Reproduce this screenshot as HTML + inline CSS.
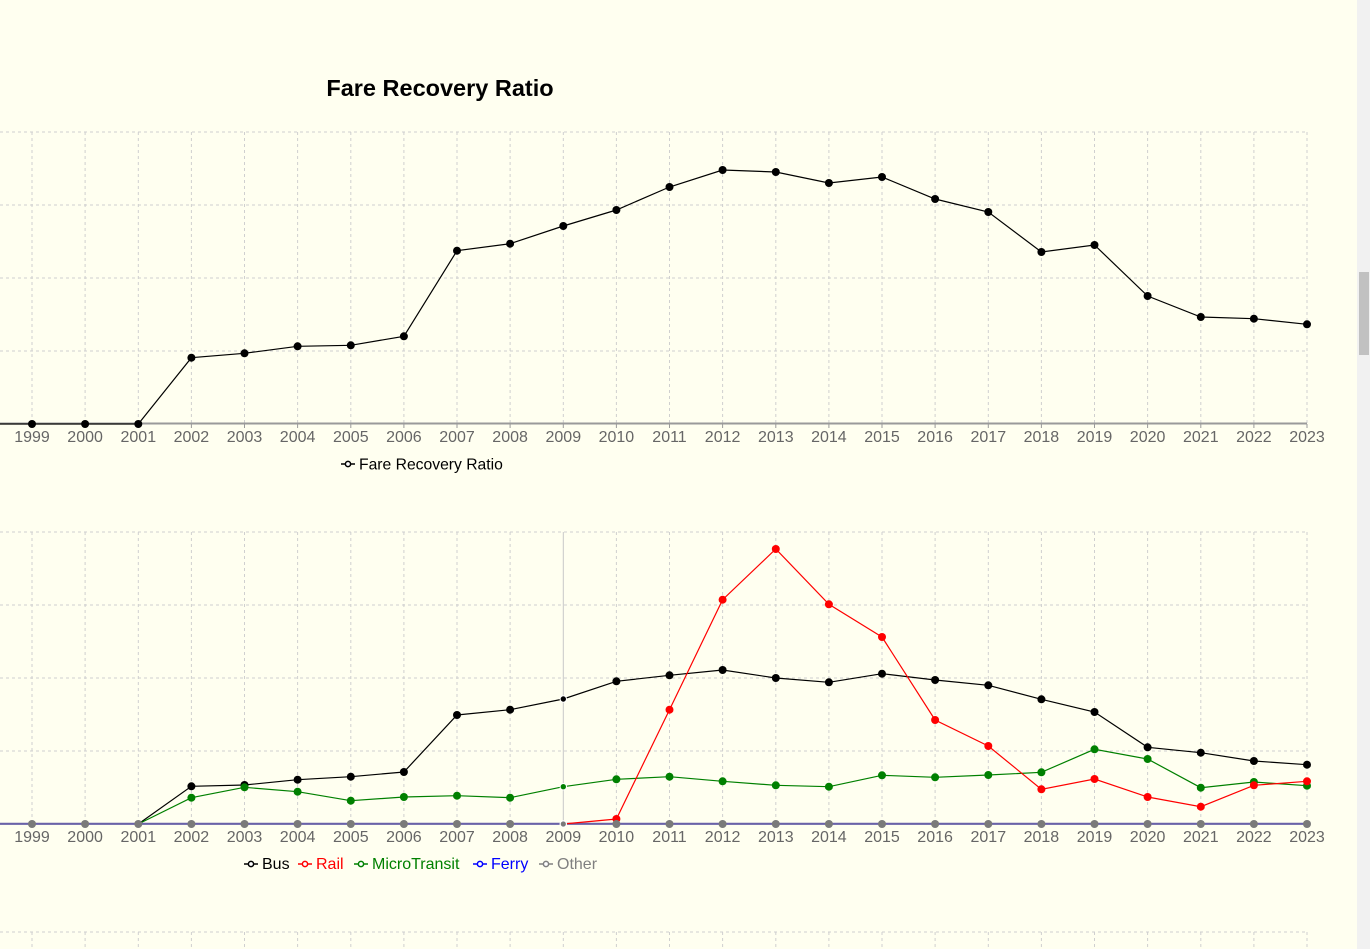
<!DOCTYPE html>
<html><head><meta charset="utf-8"><style>
html,body{margin:0;padding:0;background:#fffff0;overflow:hidden}
svg{display:block}
text{font-family:"Liberation Sans",sans-serif}
</style></head><body>
<svg width="1370" height="949" viewBox="0 0 1370 949" xmlns="http://www.w3.org/2000/svg">
<rect width="1370" height="949" fill="#fffff0"/>
<!-- scrollbar -->
<rect x="1357" y="0" width="13" height="949" fill="#f1f1f1"/>
<rect x="1359" y="272" width="10" height="83" fill="#c1c1c1"/>

<text x="440" y="96" text-anchor="middle" font-size="23.5" font-weight="bold" fill="#000">Fare Recovery Ratio</text>

<!-- ===== TOP CHART ===== -->
<g stroke="#cfcfcf" stroke-width="1" stroke-dasharray="3,3" fill="none">
<line x1="0" y1="132" x2="1307" y2="132"/>
<line x1="0" y1="205" x2="1307" y2="205"/>
<line x1="0" y1="278" x2="1307" y2="278"/>
<line x1="0" y1="351" x2="1307" y2="351"/>
<path d="M32 132V424M85.1 132V424M138.3 132V424M191.4 132V424M244.5 132V424M297.6 132V424M350.8 132V424M403.9 132V424M457 132V424M510.1 132V424M563.3 132V424M616.4 132V424M669.5 132V424M722.6 132V424M775.8 132V424M828.9 132V424M882 132V424M935.1 132V424M988.3 132V424M1041.4 132V424M1094.5 132V424M1147.6 132V424M1200.8 132V424M1253.9 132V424M1307 132V424"/>
</g>
<line x1="0" y1="423.5" x2="1307" y2="423.5" stroke="#9a9a9a" stroke-width="2"/>
<path d="M32 424V428M85.1 424V428M138.3 424V428M191.4 424V428M244.5 424V428M297.6 424V428M350.8 424V428M403.9 424V428M457 424V428M510.1 424V428M563.3 424V428M616.4 424V428M669.5 424V428M722.6 424V428M775.8 424V428M828.9 424V428M882 424V428M935.1 424V428M988.3 424V428M1041.4 424V428M1094.5 424V428M1147.6 424V428M1200.8 424V428M1253.9 424V428M1307 424V428" stroke="#9a9a9a" stroke-width="1"/>
<g font-size="16" fill="#666" text-anchor="middle">
<text x="32" y="442">1999</text><text x="85.1" y="442">2000</text><text x="138.3" y="442">2001</text><text x="191.4" y="442">2002</text><text x="244.5" y="442">2003</text><text x="297.6" y="442">2004</text><text x="350.8" y="442">2005</text><text x="403.9" y="442">2006</text><text x="457" y="442">2007</text><text x="510.1" y="442">2008</text><text x="563.3" y="442">2009</text><text x="616.4" y="442">2010</text><text x="669.5" y="442">2011</text><text x="722.6" y="442">2012</text><text x="775.8" y="442">2013</text><text x="828.9" y="442">2014</text><text x="882" y="442">2015</text><text x="935.1" y="442">2016</text><text x="988.3" y="442">2017</text><text x="1041.4" y="442">2018</text><text x="1094.5" y="442">2019</text><text x="1147.6" y="442">2020</text><text x="1200.8" y="442">2021</text><text x="1253.9" y="442">2022</text><text x="1307" y="442">2023</text>
</g>
<polyline fill="none" stroke="#000" stroke-width="1.2" points="0,424 32,424 85.1,424 138.3,424 191.4,357.7 244.5,353.3 297.6,346.3 350.8,345.3 403.9,336.3 457,250.7 510.1,243.7 563.3,226 616.4,210 669.5,187 722.6,170 775.8,172 828.9,183 882,177 935.1,199 988.3,212 1041.4,252 1094.5,245 1147.6,296 1200.8,317 1253.9,318.7 1307,324.3"/>
<g fill="#000">
<circle cx="32" cy="424" r="4"/><circle cx="85.1" cy="424" r="4"/><circle cx="138.3" cy="424" r="4"/><circle cx="191.4" cy="357.7" r="4"/><circle cx="244.5" cy="353.3" r="4"/><circle cx="297.6" cy="346.3" r="4"/><circle cx="350.8" cy="345.3" r="4"/><circle cx="403.9" cy="336.3" r="4"/><circle cx="457" cy="250.7" r="4"/><circle cx="510.1" cy="243.7" r="4"/><circle cx="563.3" cy="226" r="4"/><circle cx="616.4" cy="210" r="4"/><circle cx="669.5" cy="187" r="4"/><circle cx="722.6" cy="170" r="4"/><circle cx="775.8" cy="172" r="4"/><circle cx="828.9" cy="183" r="4"/><circle cx="882" cy="177" r="4"/><circle cx="935.1" cy="199" r="4"/><circle cx="988.3" cy="212" r="4"/><circle cx="1041.4" cy="252" r="4"/><circle cx="1094.5" cy="245" r="4"/><circle cx="1147.6" cy="296" r="4"/><circle cx="1200.8" cy="317" r="4"/><circle cx="1253.9" cy="318.7" r="4"/><circle cx="1307" cy="324.3" r="4"/>
</g>
<!-- top legend -->
<line x1="341" y1="464" x2="355" y2="464" stroke="#000" stroke-width="1.5"/>
<circle cx="348" cy="464" r="2.6" fill="#fff" stroke="#000" stroke-width="1.5"/>
<text x="359" y="469.5" font-size="15.7" fill="#000">Fare Recovery Ratio</text>

<!-- ===== BOTTOM CHART ===== -->
<g stroke="#cfcfcf" stroke-width="1" stroke-dasharray="3,3" fill="none">
<line x1="0" y1="532" x2="1307" y2="532"/>
<line x1="0" y1="605" x2="1307" y2="605"/>
<line x1="0" y1="678" x2="1307" y2="678"/>
<line x1="0" y1="751" x2="1307" y2="751"/>
<path d="M32 532V824M85.1 532V824M138.3 532V824M191.4 532V824M244.5 532V824M297.6 532V824M350.8 532V824M403.9 532V824M457 532V824M510.1 532V824M616.4 532V824M669.5 532V824M722.6 532V824M775.8 532V824M828.9 532V824M882 532V824M935.1 532V824M988.3 532V824M1041.4 532V824M1094.5 532V824M1147.6 532V824M1200.8 532V824M1253.9 532V824M1307 532V824"/>
</g>
<line x1="563.3" y1="532" x2="563.3" y2="824" stroke="#c8c8c8" stroke-width="1"/>
<g font-size="16" fill="#666" text-anchor="middle">
<text x="32" y="842">1999</text><text x="85.1" y="842">2000</text><text x="138.3" y="842">2001</text><text x="191.4" y="842">2002</text><text x="244.5" y="842">2003</text><text x="297.6" y="842">2004</text><text x="350.8" y="842">2005</text><text x="403.9" y="842">2006</text><text x="457" y="842">2007</text><text x="510.1" y="842">2008</text><text x="563.3" y="842">2009</text><text x="616.4" y="842">2010</text><text x="669.5" y="842">2011</text><text x="722.6" y="842">2012</text><text x="775.8" y="842">2013</text><text x="828.9" y="842">2014</text><text x="882" y="842">2015</text><text x="935.1" y="842">2016</text><text x="988.3" y="842">2017</text><text x="1041.4" y="842">2018</text><text x="1094.5" y="842">2019</text><text x="1147.6" y="842">2020</text><text x="1200.8" y="842">2021</text><text x="1253.9" y="842">2022</text><text x="1307" y="842">2023</text>
</g>
<!-- axis / ferry+other line -->
<line x1="0" y1="823.8" x2="1307" y2="823.8" stroke="#6a62a8" stroke-width="2.2"/>
<!-- Bus -->
<polyline fill="none" stroke="#000" stroke-width="1.2" points="138.3,824 191.4,786.3 244.5,785 297.6,779.7 350.8,776.7 403.9,772 457,715 510.1,709.7 563.3,699 616.4,681.3 669.5,675.3 722.6,670 775.8,678 828.9,682.3 882,673.7 935.1,680 988.3,685.3 1041.4,699.3 1094.5,712 1147.6,747.3 1200.8,752.7 1253.9,761 1307,764.7"/>
<!-- MicroTransit -->
<polyline fill="none" stroke="#008000" stroke-width="1.2" points="138.3,824 191.4,797.7 244.5,787.3 297.6,791.7 350.8,800.7 403.9,797 457,795.7 510.1,797.7 563.3,786.7 616.4,779.3 669.5,776.7 722.6,781.3 775.8,785.3 828.9,786.7 882,775.3 935.1,777.3 988.3,775 1041.4,772.3 1094.5,749.3 1147.6,759 1200.8,787.7 1253.9,782 1307,785.7"/>
<!-- Rail -->
<polyline fill="none" stroke="#ff0000" stroke-width="1.2" points="563.3,824 616.4,819 669.5,709.7 722.6,599.7 775.8,549 828.9,604.3 882,637 935.1,720 988.3,746 1041.4,789.3 1094.5,779 1147.6,797 1200.8,806.7 1253.9,785.3 1307,781.3"/>
<!-- Bus markers -->
<g fill="#000">
<circle cx="191.4" cy="786.3" r="4"/><circle cx="244.5" cy="785" r="4"/><circle cx="297.6" cy="779.7" r="4"/><circle cx="350.8" cy="776.7" r="4"/><circle cx="403.9" cy="772" r="4"/><circle cx="457" cy="715" r="4"/><circle cx="510.1" cy="709.7" r="4"/><circle cx="563.3" cy="699" r="3.2" stroke="#fff" stroke-width="1"/><circle cx="616.4" cy="681.3" r="4"/><circle cx="669.5" cy="675.3" r="4"/><circle cx="722.6" cy="670" r="4"/><circle cx="775.8" cy="678" r="4"/><circle cx="828.9" cy="682.3" r="4"/><circle cx="882" cy="673.7" r="4"/><circle cx="935.1" cy="680" r="4"/><circle cx="988.3" cy="685.3" r="4"/><circle cx="1041.4" cy="699.3" r="4"/><circle cx="1094.5" cy="712" r="4"/><circle cx="1147.6" cy="747.3" r="4"/><circle cx="1200.8" cy="752.7" r="4"/><circle cx="1253.9" cy="761" r="4"/><circle cx="1307" cy="764.7" r="4"/>
</g>
<!-- MicroTransit markers -->
<g fill="#008000">
<circle cx="191.4" cy="797.7" r="4"/><circle cx="244.5" cy="787.3" r="4"/><circle cx="297.6" cy="791.7" r="4"/><circle cx="350.8" cy="800.7" r="4"/><circle cx="403.9" cy="797" r="4"/><circle cx="457" cy="795.7" r="4"/><circle cx="510.1" cy="797.7" r="4"/><circle cx="563.3" cy="786.7" r="3.2" stroke="#fff" stroke-width="1"/><circle cx="616.4" cy="779.3" r="4"/><circle cx="669.5" cy="776.7" r="4"/><circle cx="722.6" cy="781.3" r="4"/><circle cx="775.8" cy="785.3" r="4"/><circle cx="828.9" cy="786.7" r="4"/><circle cx="882" cy="775.3" r="4"/><circle cx="935.1" cy="777.3" r="4"/><circle cx="988.3" cy="775" r="4"/><circle cx="1041.4" cy="772.3" r="4"/><circle cx="1094.5" cy="749.3" r="4"/><circle cx="1147.6" cy="759" r="4"/><circle cx="1200.8" cy="787.7" r="4"/><circle cx="1253.9" cy="782" r="4"/><circle cx="1307" cy="785.7" r="4"/>
</g>
<!-- Rail markers -->
<g fill="#ff0000">
<circle cx="616.4" cy="819" r="4"/><circle cx="669.5" cy="709.7" r="4"/><circle cx="722.6" cy="599.7" r="4"/><circle cx="775.8" cy="549" r="4"/><circle cx="828.9" cy="604.3" r="4"/><circle cx="882" cy="637" r="4"/><circle cx="935.1" cy="720" r="4"/><circle cx="988.3" cy="746" r="4"/><circle cx="1041.4" cy="789.3" r="4"/><circle cx="1094.5" cy="779" r="4"/><circle cx="1147.6" cy="797" r="4"/><circle cx="1200.8" cy="806.7" r="4"/><circle cx="1253.9" cy="785.3" r="4"/><circle cx="1307" cy="781.3" r="4"/>
</g>
<!-- Other markers -->
<g fill="#7a7a7a">
<circle cx="32" cy="824" r="4"/><circle cx="85.1" cy="824" r="4"/><circle cx="138.3" cy="824" r="4"/><circle cx="191.4" cy="824" r="4"/><circle cx="244.5" cy="824" r="4"/><circle cx="297.6" cy="824" r="4"/><circle cx="350.8" cy="824" r="4"/><circle cx="403.9" cy="824" r="4"/><circle cx="457" cy="824" r="4"/><circle cx="510.1" cy="824" r="4"/><circle cx="563.3" cy="824" r="3.2" stroke="#fff" stroke-width="1.2"/><circle cx="616.4" cy="824" r="4"/><circle cx="669.5" cy="824" r="4"/><circle cx="722.6" cy="824" r="4"/><circle cx="775.8" cy="824" r="4"/><circle cx="828.9" cy="824" r="4"/><circle cx="882" cy="824" r="4"/><circle cx="935.1" cy="824" r="4"/><circle cx="988.3" cy="824" r="4"/><circle cx="1041.4" cy="824" r="4"/><circle cx="1094.5" cy="824" r="4"/><circle cx="1147.6" cy="824" r="4"/><circle cx="1200.8" cy="824" r="4"/><circle cx="1253.9" cy="824" r="4"/><circle cx="1307" cy="824" r="4"/>
</g>
<!-- bottom legend -->
<g stroke-width="1.5">
<line x1="244" y1="864" x2="258" y2="864" stroke="#000"/><circle cx="251" cy="864" r="2.6" fill="#fff" stroke="#000"/>
<line x1="298" y1="864" x2="312" y2="864" stroke="#f00"/><circle cx="305" cy="864" r="2.6" fill="#fff" stroke="#f00"/>
<line x1="354" y1="864" x2="368" y2="864" stroke="#008000"/><circle cx="361" cy="864" r="2.6" fill="#fff" stroke="#008000"/>
<line x1="473" y1="864" x2="487" y2="864" stroke="#00f"/><circle cx="480" cy="864" r="2.6" fill="#fff" stroke="#00f"/>
<line x1="539" y1="864" x2="553" y2="864" stroke="#808080"/><circle cx="546" cy="864" r="2.6" fill="#fff" stroke="#808080"/>
</g>
<g font-size="16">
<text x="262" y="869" fill="#000">Bus</text>
<text x="316" y="869" fill="#f00">Rail</text>
<text x="372" y="869" fill="#008000">MicroTransit</text>
<text x="491" y="869" fill="#00f">Ferry</text>
<text x="557" y="869" fill="#808080">Other</text>
</g>

<!-- third chart partial -->
<g stroke="#cfcfcf" stroke-width="1" stroke-dasharray="3,3" fill="none">
<line x1="0" y1="932" x2="1307" y2="932"/>
<path d="M32 932V949M85.1 932V949M138.3 932V949M191.4 932V949M244.5 932V949M297.6 932V949M350.8 932V949M403.9 932V949M457 932V949M510.1 932V949M563.3 932V949M616.4 932V949M669.5 932V949M722.6 932V949M775.8 932V949M828.9 932V949M882 932V949M935.1 932V949M988.3 932V949M1041.4 932V949M1094.5 932V949M1147.6 932V949M1200.8 932V949M1253.9 932V949M1307 932V949"/>
</g>
</svg>
</body></html>
